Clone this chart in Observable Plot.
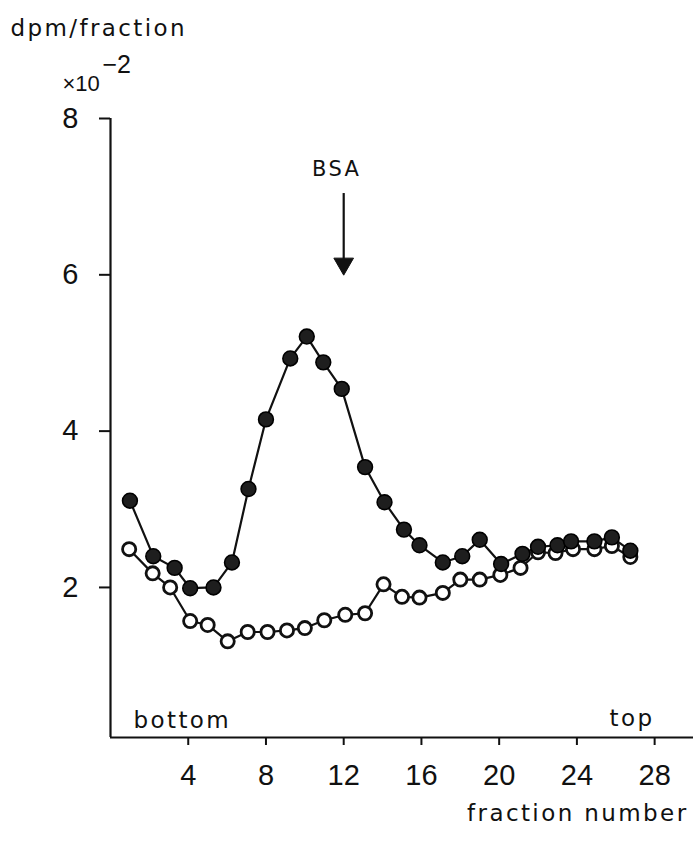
<!DOCTYPE html>
<html><head><meta charset="utf-8">
<script src="https://cdn.jsdelivr.net/npm/d3@7"></script>
<script src="https://cdn.jsdelivr.net/npm/@observablehq/plot@0.6"></script>
<style>
html,body{margin:0;padding:0;background:#fff;}
#chart svg{display:block;overflow:visible;}
g[font-family^="DejaVu"] text{letter-spacing:2.4px;}
</style></head><body>
<div id="chart"></div>
<script>
// Filled circles (●) series
const filledFraction = [1.0, 2.2, 3.3, 4.1, 5.3, 6.25, 7.1, 8.0, 9.25, 10.1, 10.95, 11.9, 13.1, 14.1, 15.1, 15.9, 17.1, 18.1, 19.0, 20.1, 21.2, 22.0, 23.0, 23.7, 24.9, 25.8, 26.75];
const filledDpm = [3.11, 2.40, 2.25, 1.99, 2.00, 2.32, 3.26, 4.15, 4.93, 5.21, 4.88, 4.54, 3.54, 3.09, 2.74, 2.54, 2.32, 2.40, 2.61, 2.30, 2.43, 2.52, 2.54, 2.59, 2.59, 2.64, 2.47];
// Open circles (○) series
const openFraction = [0.96, 2.17, 3.07, 4.1, 5.0, 6.03, 7.06, 8.08, 9.08, 10.0, 11.0, 12.08, 13.1, 14.05, 15.0, 15.9, 17.1, 18.0, 19.0, 20.06, 21.1, 22.0, 22.9, 23.8, 24.9, 25.8, 26.75];
const openDpm = [2.49, 2.18, 2.00, 1.57, 1.52, 1.31, 1.43, 1.43, 1.45, 1.48, 1.58, 1.65, 1.67, 2.04, 1.88, 1.87, 1.93, 2.10, 2.10, 2.16, 2.25, 2.45, 2.44, 2.49, 2.49, 2.53, 2.39];
// Axes
const xTicks = [4, 8, 12, 16, 20, 24, 28];
const yTicks = [2, 4, 6, 8];
const xDomain = [0, 30];
const yDomain = [0.08, 8];
// BSA marker annotation
const bsa = [{fraction: 12, label: "BSA", from: 7.04, to: 6.1, tip: 6.0, textAt: 7.27}];

const filled = filledFraction.map((f, i) => ({fraction: f, dpm: filledDpm[i]}));
const open = openFraction.map((f, i) => ({fraction: f, dpm: openDpm[i]}));

const ink = "#111";
const textFont = "DejaVu Sans";

const chart = Plot.plot({
  width: 693, height: 844,
  marginLeft: 110, marginRight: 0, marginTop: 118, marginBottom: 107,
  style: {fontFamily: "'Liberation Sans', Arial, sans-serif", fontSize: "29px", color: ink, background: "#fff"},
  x: {domain: xDomain},
  y: {domain: yDomain},
  marks: [
    Plot.ruleX([xDomain[0]], {stroke: ink, strokeWidth: 2.2}),
    Plot.ruleY([yDomain[0]], {stroke: ink, strokeWidth: 2.2}),
    Plot.axisX({ticks: xTicks, tickSize: 8, tickPadding: 19, label: null, strokeWidth: 2, fontSize: 29}),
    Plot.axisY({ticks: yTicks, tickSize: 11, tickPadding: 21, label: null, strokeWidth: 2, fontSize: 29}),
    Plot.line(filled, {x: "fraction", y: "dpm", stroke: ink, strokeWidth: 2.2}),
    Plot.line(open, {x: "fraction", y: "dpm", stroke: ink, strokeWidth: 2.2}),
    Plot.dot(open, {x: "fraction", y: "dpm", r: 6.6, fill: "white", stroke: ink, strokeWidth: 2.8}),
    Plot.dot(filled, {x: "fraction", y: "dpm", r: 7.4, fill: "#1e1e1e", stroke: "#000", strokeWidth: 1.6}),
    // BSA arrow
    Plot.ruleX(bsa, {x: "fraction", y1: "from", y2: "to", stroke: ink, strokeWidth: 2.2}),
    Plot.dot(bsa, {x: "fraction", y: "tip", symbol: "triangle", rotate: 180, r: 7.3, fill: ink, stroke: ink, strokeWidth: 1, dy: -11}),
    Plot.text(bsa, {x: "fraction", y: "textAt", text: "label", lineAnchor: "bottom", fontFamily: textFont, fontSize: 21, dx: -7, fill: ink}),
    // in-frame labels
    Plot.text(["bottom"], {frameAnchor: "bottom-left", textAnchor: "start", lineAnchor: "bottom", dx: 23, dy: -10, fontFamily: textFont, fontSize: 23, fill: ink}),
    Plot.text(["top"], {frameAnchor: "bottom-right", textAnchor: "end", lineAnchor: "bottom", dx: -39, dy: -12, fontFamily: textFont, fontSize: 23, fill: ink}),
    // axis titles
    Plot.text(["dpm/fraction"], {frameAnchor: "top-left", textAnchor: "start", lineAnchor: "bottom", dx: -100, dy: -83, fontFamily: textFont, fontSize: 23, fill: ink}),
    Plot.text(["×10"], {frameAnchor: "top-left", textAnchor: "start", lineAnchor: "bottom", dx: -48, dy: -28, fontSize: 22, fill: ink}),
    Plot.text(["−2"], {frameAnchor: "top-left", textAnchor: "start", lineAnchor: "bottom", dx: -8, dy: -46, fontSize: 25, fill: ink}),
    Plot.text(["fraction number"], {frameAnchor: "bottom-right", textAnchor: "end", lineAnchor: "bottom", dx: -5, dy: 83, fontFamily: textFont, fontSize: 23, fill: ink})
  ]
});
document.getElementById("chart").appendChild(chart);
</script>
</body></html>
